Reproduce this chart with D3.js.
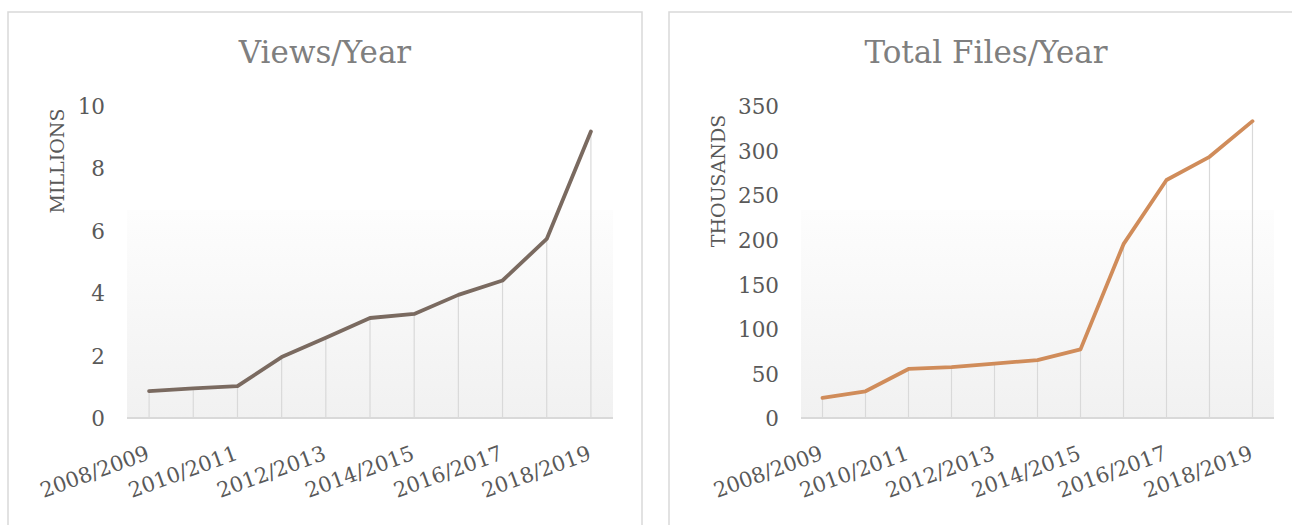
<!DOCTYPE html>
<html>
<head>
<meta charset="utf-8">
<script src="https://cdn.jsdelivr.net/npm/d3@7/dist/d3.min.js"></script>
<style>
  body { margin: 0; background: #fff; }
  svg { display: block; }
  text { font-family: "DejaVu Serif", serif; }
</style>
</head>
<body>
<svg id="chart" width="1292" height="525"></svg>
<script>
// Data
const categories = ["2008/2009", "2009/2010", "2010/2011", "2011/2012", "2012/2013", "2013/2014",
                    "2014/2015", "2015/2016", "2016/2017", "2017/2018", "2018/2019"];
const views = [0.86, 0.95, 1.02, 1.95, 2.57, 3.2, 3.33, 3.94, 4.4, 5.73, 9.17];   // millions
const files = [22.5, 30, 55, 57, 61, 65, 77, 195, 267, 293, 333];                // thousands
const viewTicks = [0, 2, 4, 6, 8, 10];
const fileTicks = [0, 50, 100, 150, 200, 250, 300, 350];

const svg = d3.select("#chart");

// gradient used for both plot areas
const grad = svg.append("defs").append("linearGradient")
    .attr("id", "plotFill")
    .attr("x1", 0).attr("y1", 0).attr("x2", 0).attr("y2", 1);
grad.append("stop").attr("offset", "0%").attr("stop-color", "#fdfdfd");
grad.append("stop").attr("offset", "100%").attr("stop-color", "#f1f1f1");

// Panel settings
const panels = [
    {
        title: "Views/Year", axisTitle: "MILLIONS", values: views, ticks: viewTicks,
        domain: [0, 10], color: "#7a6a60",
        box: { x: 8, y: 12, w: 634 },
        plot: { left: 127, right: 613, top: 105.5, bottom: 418 },
        labelX: 105, axisTitlePos: [64, 161]
    },
    {
        title: "Total Files/Year", axisTitle: "THOUSANDS", values: files, ticks: fileTicks,
        domain: [0, 350], color: "#d08c5a",
        box: { x: 669, y: 12, w: 634 },
        plot: { left: 801, right: 1274, top: 106, bottom: 418 },
        labelX: 779, axisTitlePos: [725, 181]
    }
];

panels.forEach(p => {
    const g = svg.append("g");

    // panel border
    g.append("rect")
        .attr("x", p.box.x).attr("y", p.box.y)
        .attr("width", p.box.w).attr("height", 540)
        .attr("fill", "#fff")
        .attr("stroke", "#d9d9d9")
        .attr("stroke-width", 1.5);

    const x = d3.scalePoint()
        .domain(categories)
        .range([p.plot.left, p.plot.right])
        .padding(0.5);

    const y = d3.scaleLinear()
        .domain(p.domain)
        .range([p.plot.bottom, p.plot.top]);

    // plot area background
    g.append("rect")
        .attr("x", p.plot.left).attr("y", 210)
        .attr("width", p.plot.right - p.plot.left)
        .attr("height", p.plot.bottom - 210)
        .attr("fill", "url(#plotFill)");

    // title
    g.append("text")
        .attr("x", p.box.x + p.box.w / 2)
        .attr("y", 63)
        .attr("text-anchor", "middle")
        .attr("font-size", 31)
        .attr("fill", "#7f7f7f")
        .text(p.title);

    // y axis title
    g.append("text")
        .attr("transform", `translate(${p.axisTitlePos[0]},${p.axisTitlePos[1]}) rotate(-90)`)
        .attr("text-anchor", "middle")
        .attr("font-size", 19)
        .attr("fill", "#595959")
        .text(p.axisTitle);

    // y axis labels
    const yAxis = g.append("g")
        .attr("transform", `translate(${p.labelX},0)`)
        .call(d3.axisLeft(y).tickValues(p.ticks).tickSize(0).tickPadding(0));
    yAxis.select(".domain").remove();
    yAxis.selectAll("text")
        .attr("font-family", "DejaVu Serif, serif")
        .attr("font-size", 21.5)
        .attr("fill", "#595959")
        .attr("dy", "0.36em");

    // drop lines
    g.selectAll(".drop")
        .data(p.values)
        .enter()
        .append("line")
        .attr("x1", (d, i) => x(categories[i]))
        .attr("x2", (d, i) => x(categories[i]))
        .attr("y1", d => y(d))
        .attr("y2", p.plot.bottom)
        .attr("stroke", "#d9d9d9")
        .attr("stroke-width", 1.2);

    // x axis baseline + rotated labels
    const xAxis = g.append("g")
        .attr("transform", `translate(0,${p.plot.bottom})`)
        .call(d3.axisBottom(x).tickValues(categories.filter((c, i) => i % 2 === 0)).tickSize(0));
    xAxis.select(".domain")
        .attr("stroke", "#d9d9d9")
        .attr("stroke-width", 2)
        .attr("d", `M${p.plot.left},0H${p.plot.right}`);
    xAxis.selectAll("text")
        .attr("font-family", "DejaVu Serif, serif")
        .attr("font-size", 21)
        .attr("fill", "#595959")
        .attr("text-anchor", "end")
        .attr("x", 0).attr("y", 0).attr("dy", 0)
        .attr("transform", "translate(1,41) rotate(-20)");

    // the line
    const line = d3.line()
        .x((d, i) => x(categories[i]))
        .y(d => y(d));

    g.append("path")
        .datum(p.values)
        .attr("d", line)
        .attr("fill", "none")
        .attr("stroke", p.color)
        .attr("stroke-width", 3.8)
        .attr("stroke-linejoin", "round")
        .attr("stroke-linecap", "round");
});
</script>
</body>
</html>
